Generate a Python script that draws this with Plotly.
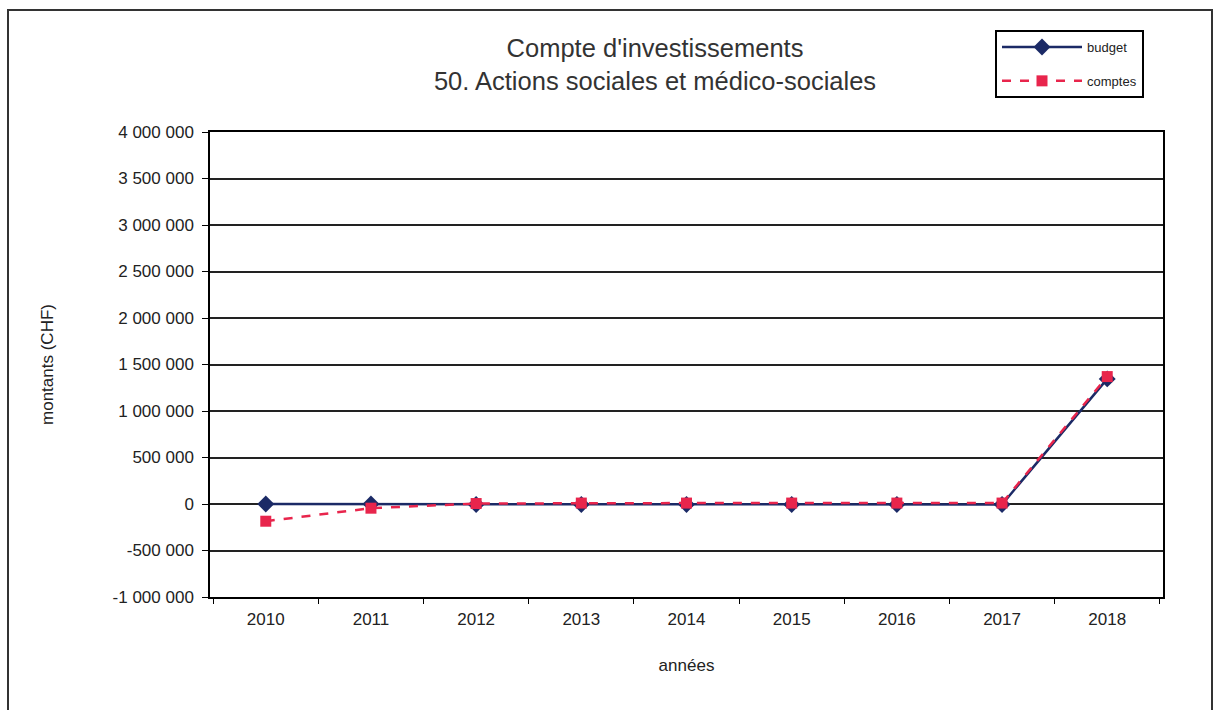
import plotly.graph_objects as go

years = ["2010", "2011", "2012", "2013", "2014", "2015", "2016", "2017", "2018"]
budget = [0, 0, -5000, -5000, -5000, -5000, -5000, -5000, 1345000]
comptes = [-185000, -45000, 5000, 10000, 10000, 10000, 10000, 10000, 1370000]
ytick_vals = [-1000000, -500000, 0, 500000, 1000000, 1500000, 2000000, 2500000, 3000000, 3500000, 4000000]
ytick_text = ["-1 000 000", "-500 000", "0", "500 000", "1 000 000", "1 500 000", "2 000 000",
              "2 500 000", "3 000 000", "3 500 000", "4 000 000"]

FONT = "Liberation Sans, Arial, sans-serif"
fig = go.Figure()
fig.add_trace(go.Scatter(x=years, y=budget, name="budget", mode="lines+markers", legendgroup="a",
                         line=dict(color="#1b2a66", width=2.5),
                         marker=dict(symbol="diamond", size=13, color="#1b2a66")))
fig.add_trace(go.Scatter(x=years, y=comptes, name="comptes", mode="lines+markers", legendgroup="b",
                         line=dict(color="#e8254c", width=2.5, dash="dash"),
                         marker=dict(symbol="square", size=11, color="#e8254c")))

L, R, T, B = 210, 1163, 132, 597
W, H = 1214, 710
pw, ph = R - L, B - T

fig.update_layout(
    width=W, height=H,
    margin=dict(l=L, r=W - R, t=T, b=H - B),
    paper_bgcolor="white", plot_bgcolor="white",
    font=dict(family=FONT, size=17, color="#222"),
    title=dict(text="Compte d'investissements<br>50. Actions sociales et médico-sociales",
               x=655 / W, xanchor="center", xref="container",
               y=1 - 57 / H, yanchor="top", yref="container",
               font=dict(size=25.5, color="#333")),
    showlegend=True,
    legend=dict(x=(995 - L) / pw, y=(B - 30) / ph, xanchor="left", yanchor="top",
                bordercolor="black", borderwidth=2, bgcolor="white",
                font=dict(size=13, color="#222"), tracegroupgap=14, itemwidth=80),
    xaxis=dict(type="category", showgrid=False, showline=True, linecolor="black", linewidth=1.5,
               ticks="outside", tickson="boundaries", ticklen=5, tickcolor="black",
               mirror=True, ticklabelstandoff=6,
               title=dict(text="années", standoff=31, font=dict(size=17)),
               tickfont=dict(size=17)),
    yaxis=dict(range=[-1000000, 4000000], tickvals=ytick_vals, ticktext=ytick_text,
               showgrid=True, gridcolor="#222", gridwidth=1.5,
               showline=True, linecolor="black", linewidth=1.5, mirror=True,
               ticks="outside", ticklen=6, tickcolor="black", zeroline=False,
               ticklabelstandoff=5,
               title=dict(text="montants (CHF)", standoff=55, font=dict(size=17)),
               tickfont=dict(size=17)),
)

fig.add_shape(type="rect", xref="paper", yref="paper",
              x0=(8 - L) / pw, x1=(1212 - L) / pw, y0=(B - 715) / ph, y1=(B - 10) / ph,
              line=dict(color="#333", width=2), layer="below")

fig.write_html("out.html")
